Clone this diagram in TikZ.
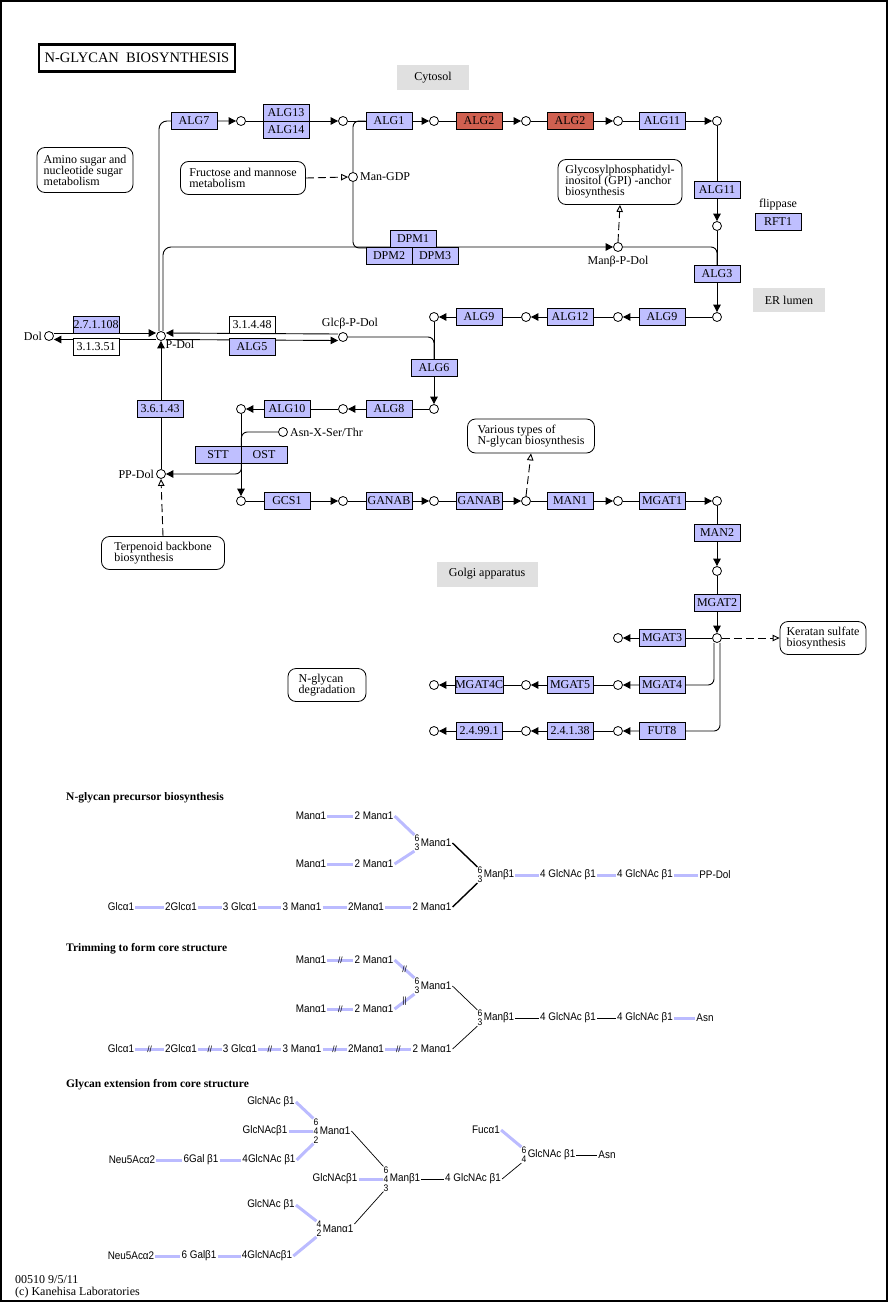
\documentclass[tikz,border=0pt]{standalone}
\usepackage{fontspec}
\setmainfont{Liberation Serif}
\newfontfamily\glyfont[FakeStretch=0.9]{Liberation Sans}
\usetikzlibrary{arrows.meta,positioning,backgrounds}
\definecolor{keggblue}{RGB}{191,191,255}
\definecolor{keggred}{RGB}{208,96,80}
\definecolor{compgray}{RGB}{224,224,224}
\definecolor{barblue}{RGB}{187,187,255}
\tikzstyle{genebox} = [draw=black, fill=keggblue, rectangle, minimum width=46pt,
    minimum height=17pt, inner sep=0pt, line width=0.8pt, font=\fontsize{12}{12}\selectfont]
\tikzstyle{redbox} = [genebox, fill=keggred]
\tikzstyle{ecbox} = [genebox, fill=white]
\tikzstyle{cpd} = [draw=black, fill=white, circle, minimum size=9pt, inner sep=0pt, line width=0.8pt]
\tikzstyle{cpdlabel} = [font=\fontsize{12}{12}\selectfont, inner sep=1pt]
\tikzstyle{mapbox} = [draw=black, fill=white, rectangle, rounded corners=8pt, align=left,
    line width=0.8pt, inner sep=2pt, font=\fontsize{12}{11}\selectfont]
\tikzstyle{compbox} = [fill=compgray, rectangle, inner sep=0pt, font=\fontsize{12}{12}\selectfont]
\tikzstyle{rxn} = [draw=black, line width=0.9pt, -{Triangle[length=7.5pt,width=7.5pt]}]
\tikzstyle{rxnline} = [draw=black, line width=0.9pt]
\tikzstyle{maplink} = [draw=black, line width=0.9pt, dash pattern=on 8pt off 4pt,
    -{Triangle[open,length=7pt,width=6.5pt]}]
\tikzstyle{glytext} = [font=\glyfont\fontsize{11}{11}\selectfont, inner sep=1pt]
\tikzstyle{glynum} = [font=\glyfont\fontsize{9.5}{9}\selectfont, inner sep=0pt, align=center]
\tikzstyle{glybar} = [draw=barblue, line width=3pt]
\tikzstyle{glylink} = [draw=black, line width=0.7pt]
\tikzstyle{cutmark} = [font=\glyfont\fontsize{9}{9}\selectfont, inner sep=0pt]
\tikzstyle{sectitle} = [anchor=west, inner sep=0pt, font=\bfseries\fontsize{11.5}{12}\selectfont]

\begin{document}
\begin{tikzpicture}[x=1pt,y=-1pt]
\useasboundingbox (0,0) rectangle (889,1303);
\draw[line width=1.5pt] (1,1) rectangle (887,1301);

% title and compartments
\node[draw=black, line width=2.5pt, minimum width=196pt, minimum height=27pt,
    font=\fontsize{14.5}{14}\selectfont] (title) at (137,58) {N-GLYCAN\ \ BIOSYNTHESIS};
\node[compbox, minimum width=72pt, minimum height=25pt] (cytosol) at (433,78) {Cytosol};
\node[compbox, minimum width=72pt, minimum height=24pt] (erlumen) at (789,300) {ER lumen};
\node[compbox, minimum width=101pt, minimum height=25pt] (golgi) at (487,574) {Golgi apparatus};

% maps
\node[mapbox, minimum width=96pt, minimum height=45pt] (aminomap) at (85,170)
    {Amino sugar and\\nucleotide sugar\\metabolism};
\node[mapbox, minimum width=125pt, minimum height=33pt] (frucmap) at (243,178)
    {Fructose and mannose\\metabolism};
\node[mapbox, minimum width=124pt, minimum height=45pt] (gpimap) at (620,182)
    {Glycosylphosphatidyl-\\inositol (GPI) -anchor\\biosynthesis};
\node[mapbox, minimum width=127pt, minimum height=34pt] (variousmap) at (531,436)
    {Various types of\\N-glycan biosynthesis};
\node[mapbox, minimum width=123pt, minimum height=33pt] (terpmap) at (163,553)
    {Terpenoid backbone\\biosynthesis};
\node[mapbox, minimum width=86pt, minimum height=33pt] (keratanmap) at (823,638)
    {Keratan sulfate\\biosynthesis};
\node[mapbox, minimum width=78pt, minimum height=33pt] (degrmap) at (327,685)
    {N-glycan\\degradation};

% cytosolic side
\node[genebox] (alg7) at (194,121) {ALG7};
\node[cpd] (c1) at (241,121) {};
\node[genebox] (alg13) at (286,113) {ALG13};
\node[genebox] (alg14) at (286,130) {ALG14};
\node[cpd] (c2) at (343,121) {};
\node[genebox] (alg1) at (389,121) {ALG1};
\node[cpd] (c3) at (434,121) {};
\node[redbox] (alg2a) at (479,121) {ALG2};
\node[cpd] (c4) at (526,121) {};
\node[redbox] (alg2b) at (570,121) {ALG2};
\node[cpd] (c5) at (618,121) {};
\node[genebox] (alg11a) at (662,121) {ALG11};
\node[cpd] (c6) at (717,121) {};
\node[genebox] (alg11b) at (717,190) {ALG11};
\node[cpd] (c7) at (717,226) {};
\node[genebox] (rft1) at (778,222) {RFT1};
\node[cpdlabel, above=2pt of rft1] (flippase) {flippase};
\node[genebox] (alg3) at (717,274) {ALG3};
\node[cpd] (c8) at (717,317) {};

\node[cpd] (mangdp) at (353,177) {};
\node[cpdlabel, right=1pt of mangdp] (mangdplab) {Man-GDP};
\node[genebox] (dpm1) at (413,239) {DPM1};
\node[genebox] (dpm2) at (389,256) {DPM2};
\node[genebox] (dpm3) at (435,256) {DPM3};
\node[cpd] (manp) at (618,247) {};
\node[cpdlabel, below=3pt of manp] (manplab) {Manβ-P-Dol};

% dolichol
\node[cpd] (dol) at (49,336) {};
\node[cpdlabel, left=1pt of dol] (dollab) {Dol};
\node[genebox] (e27) at (96,325) {2.7.1.108};
\node[ecbox] (e313) at (96,347) {3.1.3.51};
\node[cpd] (pdol) at (161,336) {};
\node[cpdlabel, anchor=north west] (pdollab) at (pdol.south east) {P-Dol};
\node[ecbox] (e314) at (252,325) {3.1.4.48};
\node[genebox] (alg5) at (252,347) {ALG5};
\node[cpd] (glc) at (343,337) {};
\node[cpdlabel, above=2pt of glc, xshift=7pt] (glclab) {Glcβ-P-Dol};
\node[genebox] (e361) at (160,409) {3.6.1.43};
\node[cpd] (ppdol) at (161,474) {};
\node[cpdlabel, left=1pt of ppdol] (ppdollab) {PP-Dol};

% lumenal side
\node[genebox] (alg9a) at (662,317) {ALG9};
\node[cpd] (c9) at (618,317) {};
\node[genebox] (alg12) at (570,317) {ALG12};
\node[cpd] (c10) at (526,317) {};
\node[genebox] (alg9b) at (479,317) {ALG9};
\node[cpd] (c11) at (434,317) {};
\node[genebox] (alg6) at (434,368) {ALG6};
\node[cpd] (c12) at (434,409) {};
\node[genebox] (alg8) at (389,409) {ALG8};
\node[cpd] (c13) at (343,409) {};
\node[genebox] (alg10) at (287,409) {ALG10};
\node[cpd] (c14) at (241,409) {};
\node[cpd] (asn) at (283,432) {};
\node[cpdlabel, right=1pt of asn] (asnlab) {Asn-X-Ser/Thr};
\node[genebox] (stt) at (218,455) {STT};
\node[genebox] (ost) at (264,455) {OST};

\node[cpd] (c15) at (241,501) {};
\node[genebox] (gcs1) at (287,501) {GCS1};
\node[cpd] (c16) at (343,501) {};
\node[genebox] (ganab1) at (389,501) {GANAB};
\node[cpd] (c17) at (434,501) {};
\node[genebox] (ganab2) at (479,501) {GANAB};
\node[cpd] (c18) at (526,501) {};
\node[genebox] (man1) at (570,501) {MAN1};
\node[cpd] (c19) at (618,501) {};
\node[genebox] (mgat1) at (662,501) {MGAT1};
\node[cpd] (c20) at (717,501) {};
\node[genebox] (man2) at (717,533) {MAN2};
\node[cpd] (c21) at (717,571) {};
\node[genebox] (mgat2) at (717,603) {MGAT2};
\node[cpd] (c22) at (717,638) {};
\node[genebox] (mgat3) at (662,638) {MGAT3};
\node[cpd] (c23) at (618,638) {};
\node[genebox] (mgat4) at (662,685) {MGAT4};
\node[cpd] (c24) at (618,685) {};
\node[genebox] (mgat5) at (570,685) {MGAT5};
\node[cpd] (c25) at (526,685) {};
\node[genebox] (mgat4c) at (479,685) {MGAT4C};
\node[cpd] (c26) at (434,685) {};
\node[genebox] (fut8) at (662,731) {FUT8};
\node[cpd] (c27) at (618,731) {};
\node[genebox] (e2438) at (570,731) {2.4.1.38};
\node[cpd] (c28) at (526,731) {};
\node[genebox] (e24991) at (479,731) {2.4.99.1};
\node[cpd] (c29) at (434,731) {};

\begin{pgfonlayer}{background}
\draw[rxn, rounded corners=8pt] ([xshift=-2pt]pdol.north) |- (c1.west);
\draw[rxn] (c1) -- (c2.west);
\draw[rxn] (c2) -- (c3.west);
\draw[rxn] (c3) -- (c4.west);
\draw[rxn] (c4) -- (c5.west);
\draw[rxn] (c5) -- (c6.west);
\draw[rxn] (c6) -- (c7.north);
\draw[rxn] (c7) -- (c8.north);
\draw[rxnline, rounded corners=6pt] (mangdp) |- (alg1.west);
\draw[rxnline, rounded corners=6pt] (mangdp) |- (dpm1.south west);
\draw[rxn, rounded corners=8pt] ([xshift=2pt]pdol.north) |- (manp.west);
\draw[rxnline, rounded corners=6pt] (manp) -| (alg3.north);
\draw[rxn] (c8) -- (c9.east);
\draw[rxn] (c9) -- (c10.east);
\draw[rxn] (c10) -- (c11.east);
\draw[rxn] (c11) -- (c12.north);
\draw[rxnline, rounded corners=6pt] (glc) -| (alg6.north);
\draw[rxn] (c12) -- (c13.east);
\draw[rxn] (c13) -- (c14.east);
\draw[rxn] (c14) -- (c15.north);
\draw[rxnline, rounded corners=6pt] (asn) -| (stt.north east);
\draw[rxn, rounded corners=6pt] (stt.south east) |- (ppdol.east);
\draw[rxn] (ppdol) -- (pdol.south);
\draw[rxn] ([yshift=3pt]dol.east) -- ([yshift=3pt]pdol.west);
\draw[rxn] ([yshift=-3.5pt]pdol.west) -- ([yshift=-3.5pt]dol.east);
\draw[rxn] ([yshift=3pt]glc.west) -- ([yshift=3pt]pdol.east);
\draw[rxn] ([yshift=-3.5pt]pdol.east) -- ([yshift=-3.5pt]glc.west);
\draw[rxn] (c15) -- (c16.west);
\draw[rxn] (c16) -- (c17.west);
\draw[rxn] (c17) -- (c18.west);
\draw[rxn] (c18) -- (c19.west);
\draw[rxn] (c19) -- (c20.west);
\draw[rxn] (c20) -- (c21.north);
\draw[rxn] (c21) -- (c22.north);
\draw[rxn] (c22) -- (c23.east);
\draw[rxn, rounded corners=6pt] ([xshift=-3pt]c22.south) |- (c24.east);
\draw[rxn] (c24) -- (c25.east);
\draw[rxn] (c25) -- (c26.east);
\draw[rxn, rounded corners=6pt] ([xshift=3pt]c22.south) |- (c27.east);
\draw[rxn] (c27) -- (c28.east);
\draw[rxn] (c28) -- (c29.east);
% links to maps
\draw[maplink] (frucmap.east) -- (mangdp.west);
\draw[maplink] (manp.north) -- (gpimap.south);
\draw[maplink] (terpmap.north) -- (ppdol.south);
\draw[maplink] (c18.north) -- (variousmap.south);
\draw[maplink] (c22.east) -- (keratanmap.west);
\end{pgfonlayer}

% N-glycan precursor biosynthesis
\node[sectitle] (ptitle) at (66,798) {N-glycan precursor biosynthesis};
\node[glytext] (pa1) at (311,816) {Manα1};
\node[glytext] (pa2) at (374,816) {2 Manα1};
\node[glytext] (pb1) at (311,864) {Manα1};
\node[glytext] (pb2) at (374,864) {2 Manα1};
\node[glynum] (pmn) at (417,843) {6\\3};
\node[glytext, right=0pt of pmn] (pm) {Manα1};
\node[glytext] (pc1) at (121,907) {Glcα1};
\node[glytext] (pc2) at (181,907) {2Glcα1};
\node[glytext] (pc3) at (240,907) {3 Glcα1};
\node[glytext] (pc4) at (302,907) {3 Manα1};
\node[glytext] (pc5) at (366,907) {2Manα1};
\node[glytext] (pc6) at (432,907) {2 Manα1};
\node[glynum] (pnn) at (480,875) {6\\3};
\node[glytext, right=0pt of pnn] (pn) {Manβ1};
\node[glytext] (pd1) at (568,875) {4 GlcNAc β1};
\node[glytext] (pd2) at (645,875) {4 GlcNAc β1};
\node[glytext] (pd3) at (715,875) {PP-Dol};
\draw[glybar] (pa1) -- (pa2);
\draw[glybar] (pb1) -- (pb2);
\draw[glybar] (pa2.east) -- (pmn.north west);
\draw[glybar] (pb2.east) -- (pmn.south west);
\draw[glybar] (pc1) -- (pc2);
\draw[glybar] (pc2) -- (pc3);
\draw[glybar] (pc3) -- (pc4);
\draw[glybar] (pc4) -- (pc5);
\draw[glybar] (pc5) -- (pc6);
\draw[glylink, line width=1.4pt] (pm.east) -- (pnn.north west);
\draw[glylink, line width=1.4pt] (pc6.east) -- (pnn.south west);
\draw[glybar] (pn) -- (pd1);
\draw[glybar] (pd1) -- (pd2);
\draw[glybar] (pd2) -- (pd3);

% Trimming to form core structure
\node[sectitle] (ttitle) at (66,949) {Trimming to form core structure};
\node[glytext] (ta1) at (311,960) {Manα1};
\node[glytext] (ta2) at (374,960) {2 Manα1};
\node[glytext] (tb1) at (311,1009) {Manα1};
\node[glytext] (tb2) at (374,1009) {2 Manα1};
\node[glynum] (tmn) at (417,986) {6\\3};
\node[glytext, right=0pt of tmn] (tm) {Manα1};
\node[glytext] (tc1) at (121,1049) {Glcα1};
\node[glytext] (tc2) at (181,1049) {2Glcα1};
\node[glytext] (tc3) at (240,1049) {3 Glcα1};
\node[glytext] (tc4) at (302,1049) {3 Manα1};
\node[glytext] (tc5) at (366,1049) {2Manα1};
\node[glytext] (tc6) at (432,1049) {2 Manα1};
\node[glynum] (tnn) at (480,1018) {6\\3};
\node[glytext, right=0pt of tnn] (tn) {Manβ1};
\node[glytext] (td1) at (568,1018) {4 GlcNAc β1};
\node[glytext] (td2) at (645,1018) {4 GlcNAc β1};
\node[glytext] (td3) at (705,1018) {Asn};
\draw[glybar] (ta1) -- node[cutmark]{//} (ta2);
\draw[glybar] (tb1) -- node[cutmark]{//} (tb2);
\draw[glybar] (ta2.east) -- node[cutmark]{//} (tmn.north west);
\draw[glybar] (tb2.east) -- node[cutmark]{||} (tmn.south west);
\draw[glybar] (tc1) -- node[cutmark]{//} (tc2);
\draw[glybar] (tc2) -- node[cutmark]{//} (tc3);
\draw[glybar] (tc3) -- node[cutmark]{//} (tc4);
\draw[glybar] (tc4) -- node[cutmark]{//} (tc5);
\draw[glybar] (tc5) -- node[cutmark]{//} (tc6);
\draw[glylink] (tm.east) -- (tnn.north west);
\draw[glylink] (tc6.east) -- (tnn.south west);
\draw[glylink] (tn) -- (td1);
\draw[glylink] (td1) -- (td2);
\draw[glybar] (td2) -- (td3);

% Glycan extension from core structure
\node[sectitle] (xtitle) at (66,1085) {Glycan extension from core structure};
\node[glytext] (xa1) at (271,1102) {GlcNAc β1};
\node[glytext] (xa2) at (265,1131) {GlcNAcβ1};
\node[glynum] (xan) at (316,1131) {6\\4\\2};
\node[glytext, right=0pt of xan] (xa) {Manα1};
\node[glytext] (xb1) at (132,1160) {Neu5Acα2};
\node[glytext] (xb2) at (201,1160) {6Gal β1};
\node[glytext] (xb3) at (269,1160) {4GlcNAc β1};
\node[glytext] (xc1) at (335,1179) {GlcNAcβ1};
\node[glynum] (xcn) at (386,1179) {6\\4\\3};
\node[glytext, right=0pt of xcn] (xc) {Manβ1};
\node[glytext] (xc2) at (473,1179) {4 GlcNAc β1};
\node[glytext] (xf1) at (486,1130) {Fucα1};
\node[glynum] (xfn) at (524,1155) {6\\4};
\node[glytext, right=0pt of xfn] (xf) {GlcNAc β1};
\node[glytext] (xf2) at (607,1155) {Asn};
\node[glytext] (xd1) at (271,1205) {GlcNAc β1};
\node[glynum] (xdn) at (319,1229) {4\\2};
\node[glytext, right=0pt of xdn] (xd) {Manα1};
\node[glytext] (xe1) at (131,1256) {Neu5Acα2};
\node[glytext] (xe2) at (199,1256) {6 Galβ1};
\node[glytext] (xe3) at (267,1256) {4GlcNAcβ1};
\draw[glybar] (xa1.east) -- (xan.north west);
\draw[glybar] (xa2) -- (xan);
\draw[glybar] (xb1) -- (xb2);
\draw[glybar] (xb2) -- (xb3);
\draw[glybar] (xb3.east) -- (xan.south west);
\draw[glylink] (xa.east) -- (xcn.north west);
\draw[glybar] (xc1) -- (xcn);
\draw[glylink] (xc) -- (xc2);
\draw[glylink] (xc2.east) -- (xfn.south west);
\draw[glybar] (xf1.east) -- (xfn.north west);
\draw[glylink] (xf) -- (xf2);
\draw[glylink] (xcn.south west) -- (xd.north east);
\draw[glybar] (xd1.east) -- (xdn.north west);
\draw[glybar] (xe1) -- (xe2);
\draw[glybar] (xe2) -- (xe3);
\draw[glybar] (xe3.east) -- (xdn.south west);

% footer
\node[anchor=north west, inner sep=0pt, align=left, font=\fontsize{12}{12}\selectfont]
    (footer) at (15,1275) {00510 9/5/11\\(c) Kanehisa Laboratories};
\end{tikzpicture}
\end{document}
